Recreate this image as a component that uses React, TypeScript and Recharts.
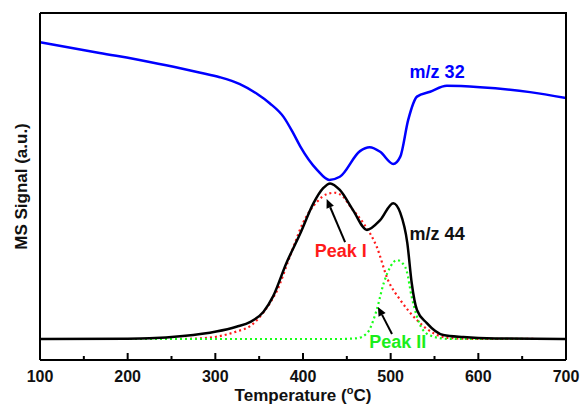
import { ComposedChart, Label, Line, ReferenceDot, ReferenceLine, XAxis, YAxis } from "recharts";

// temperatures (°C) and signal (a.u., 0-100 frame)
const mz32Temp = [100, 168, 225, 260, 283, 305, 328, 347, 362, 378, 389, 397, 416, 430, 442, 465, 476, 488, 503, 511, 520, 530, 545, 564, 602, 659, 700];
const mz32Signal = [91.6, 88.5, 85.9, 84.1, 82.8, 81.5, 79.5, 76.8, 74.0, 70.0, 65.3, 61.5, 54.8, 51.9, 52.8, 60.2, 61.3, 60.0, 56.5, 58.6, 69.2, 75.9, 77.3, 79.0, 78.6, 77.2, 75.5];

const mz44Temp = [100, 200, 225, 263, 301, 324, 340, 355, 366, 381, 397, 412, 423, 431, 442, 457, 473, 488, 503, 511, 519, 524, 530, 541, 560, 583, 620, 700];
const mz44Signal = [6.05, 6.15, 6.25, 6.9, 8.2, 9.6, 11.0, 13.9, 18.4, 27.9, 36.5, 45.2, 49.5, 50.9, 49.0, 43.2, 37.5, 40.3, 45.2, 42.4, 33.7, 22.2, 14.4, 10.7, 7.2, 6.6, 6.2, 6.05];

const peak1Temp = [100, 250, 280, 301, 324, 340, 351, 362, 370, 385, 400, 416, 428, 436, 446, 454, 469, 484, 497, 511, 530, 549, 565, 590, 700];
const peak1Signal = [6.05, 6.05, 6.2, 6.7, 8.2, 9.8, 12.5, 16.3, 19.8, 29.8, 39.5, 45.6, 47.9, 48.2, 47.0, 44.2, 39.4, 32.7, 23.0, 17.3, 11.5, 7.7, 6.4, 6.1, 6.05];

const peak2Temp = [100, 440, 461, 473, 484, 492, 500, 507, 513, 518, 524, 530, 537, 549, 565, 700];
const peak2Signal = [6.05, 6.05, 6.25, 7.7, 14.4, 22.1, 27.0, 28.8, 28.0, 25.9, 18.2, 12.5, 8.6, 6.7, 6.1, 6.05];

const majorTicks = [100, 200, 300, 400, 500, 600, 700];
const minorTicks = [150, 250, 350, 450, 550, 650];
const tempDomain = [100, 700];

const toPoints = (temps: number[], vals: number[]) => temps.map((t, i) => ({ t, v: vals[i] }));

// chart geometry, shared by the chart and the box overlay
const W = 580;
const H = 406;
const MARGIN = { top: 13, right: 14, left: 0, bottom: 0 };
const Y_AXIS_W = 40;
const X_AXIS_H = 46;
const PLOT = {
  left: MARGIN.left + Y_AXIS_W,
  top: MARGIN.top,
  right: W - MARGIN.right,
  bottom: H - MARGIN.bottom - X_AXIS_H,
};

const FONT = '"Liberation Sans", Arial, sans-serif';

function TempLabel({ x, y, payload }: any) {
  return (
    <text x={x} y={y + 22} textAnchor="middle" fontFamily={FONT} fontWeight="bold" fontSize={16} fill="#111">
      {payload.value}
    </text>
  );
}

function note(text: string, color: string) {
  return ({ viewBox }: any) => (
    <text
      x={viewBox.x}
      y={viewBox.y}
      textAnchor="middle"
      dominantBaseline="central"
      fontFamily={FONT}
      fontWeight="bold"
      fontSize={18}
      fill={color}
    >
      {text}
    </text>
  );
}

function Arrow(props: any) {
  const { x1, y1, x2, y2 } = props;
  const ang = Math.atan2(y2 - y1, x2 - x1);
  const len = 9;
  const half = 4;
  const bx = x2 - len * Math.cos(ang);
  const by = y2 - len * Math.sin(ang);
  const px = -Math.sin(ang) * half;
  const py = Math.cos(ang) * half;
  return (
    <g>
      <line x1={x1} y1={y1} x2={bx} y2={by} stroke="#000" strokeWidth={2} />
      <polygon points={`${x2},${y2} ${bx + px},${by + py} ${bx - px},${by - py}`} fill="#000" />
    </g>
  );
}

// top/right edges of the box and the inward tick marks on the temperature axis
function BoxOverlay() {
  const tx = (t: number) =>
    PLOT.left + ((t - tempDomain[0]) / (tempDomain[1] - tempDomain[0])) * (PLOT.right - PLOT.left);
  return (
    <svg
      width={W}
      height={H}
      style={{ position: "absolute", left: 0, top: 0, pointerEvents: "none" }}
    >
      <polyline
        points={`${PLOT.left},${PLOT.top} ${PLOT.right},${PLOT.top} ${PLOT.right},${PLOT.bottom}`}
        fill="none"
        stroke="#000"
        strokeWidth={2}
      />
      {majorTicks.map((t) => (
        <line key={`M${t}`} x1={tx(t)} x2={tx(t)} y1={PLOT.bottom} y2={PLOT.bottom - 7} stroke="#000" strokeWidth={2} />
      ))}
      {minorTicks.map((t) => (
        <line key={`m${t}`} x1={tx(t)} x2={tx(t)} y1={PLOT.bottom} y2={PLOT.bottom - 4} stroke="#000" strokeWidth={2} />
      ))}
    </svg>
  );
}

const frame = { stroke: "#000", strokeWidth: 2 };

export default function App() {
  return (
    <div style={{ position: "absolute", left: 0, top: 0, width: W, height: H, background: "#fff" }}>
      <ComposedChart width={W} height={H} margin={MARGIN}>
        <XAxis
          dataKey="t"
          type="number"
          domain={tempDomain}
          ticks={majorTicks}
          interval={0}
          tickLine={false}
          tickSize={0}
          tickMargin={0}
          tick={<TempLabel />}
          height={X_AXIS_H}
          axisLine={frame}
        >
          <Label
            content={({ viewBox }: any) => (
              <text
                x={viewBox.x + viewBox.width / 2}
                y={viewBox.y + 41}
                textAnchor="middle"
                fontFamily={FONT}
                fontWeight="bold"
                fontSize={17}
                fill="#111"
              >
                <tspan>Temperature (</tspan>
                <tspan dy={-7} fontSize={11}>o</tspan>
                <tspan dy={7}>C)</tspan>
              </text>
            )}
          />
        </XAxis>
        <YAxis type="number" domain={[0, 100]} tick={false} tickLine={false} width={Y_AXIS_W} axisLine={frame}>
          <Label
            content={({ viewBox }: any) => {
              const cx = viewBox.x + 27;
              const cy = viewBox.y + viewBox.height / 2;
              return (
                <text
                  x={cx}
                  y={cy}
                  transform={`rotate(-90, ${cx}, ${cy})`}
                  textAnchor="middle"
                  fontFamily={FONT}
                  fontWeight="bold"
                  fontSize={17}
                  fill="#111"
                >
                  MS Signal (a.u.)
                </text>
              );
            }}
          />
        </YAxis>

        <Line data={toPoints(peak1Temp, peak1Signal)} dataKey="v" type="monotone" stroke="#ff1a1a" strokeWidth={2.2} strokeDasharray="2 3" dot={false} isAnimationActive={false} />
        <Line data={toPoints(peak2Temp, peak2Signal)} dataKey="v" type="monotone" stroke="#1aff1a" strokeWidth={2.2} strokeDasharray="2 3" dot={false} isAnimationActive={false} />
        <Line data={toPoints(mz44Temp, mz44Signal)} dataKey="v" type="monotone" stroke="#000" strokeWidth={2.5} dot={false} isAnimationActive={false} />
        <Line data={toPoints(mz32Temp, mz32Signal)} dataKey="v" type="monotone" stroke="#0000ff" strokeWidth={2.5} dot={false} isAnimationActive={false} />

        <ReferenceLine segment={[{ x: 448, y: 34.0 }, { x: 427, y: 46.4 }]} shape={<Arrow />} />
        <ReferenceLine segment={[{ x: 501.5, y: 7.5 }, { x: 485.5, y: 15.3 }]} shape={<Arrow />} />

        <ReferenceDot x={553} y={83.0} r={0} fill="none" stroke="none" label={note("m/z 32", "#0000ff")} />
        <ReferenceDot x={553} y={36.3} r={0} fill="none" stroke="none" label={note("m/z 44", "#111")} />
        <ReferenceDot x={443} y={31.4} r={0} fill="none" stroke="none" label={note("Peak I", "#ff1a1a")} />
        <ReferenceDot x={508} y={5.2} r={0} fill="none" stroke="none" label={note("Peak II", "#1aee1a")} />
      </ComposedChart>
      <BoxOverlay />
    </div>
  );
}
